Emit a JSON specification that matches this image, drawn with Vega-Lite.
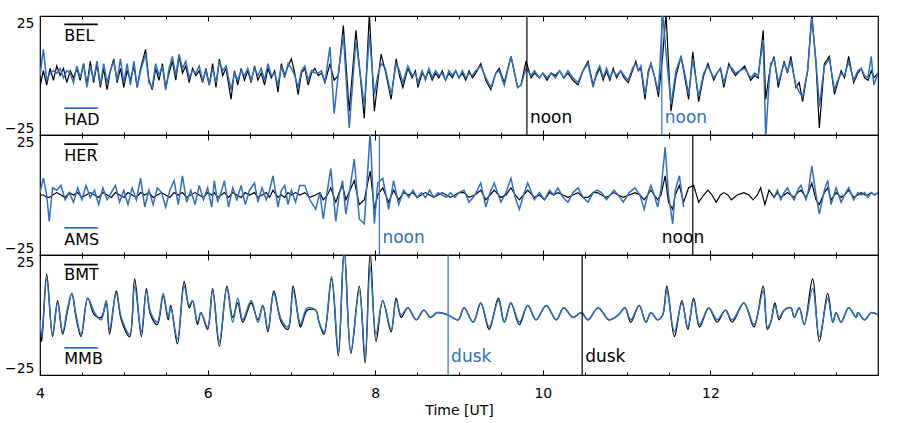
{
  "$schema": "https://vega.github.io/schema/vega-lite/v6.json",
  "background": "white",
  "padding": {"left": 3, "top": 14, "right": 5, "bottom": 5},
  "spacing": 0,
  "bounds": "flush",
  "config": {
    "font": "DejaVu Sans",
    "view": {"stroke": "black", "strokeWidth": 1.2},
    "axis": {"grid": false, "domain": false, "labelFontSize": 14, "labelColor": "black", "tickColor": "black", "titleColor": "black", "titleFontWeight": "normal", "titleFontSize": 14}
  },
  "vconcat": [
    {
      "width": 838, "height": 119,
      "resolve": {"axis": {"x": "independent"}},
      "layer": [
        {
          "data": {"values": [
            {"t":4.00,"a":-5,"b":0},{"t":4.04,"a":2,"b":11},{"t":4.08,"a":-4,"b":-2},{"t":4.12,"a":3,"b":1},{"t":4.16,"a":-2,"b":2},{"t":4.20,"a":4,"b":1},{"t":4.24,"a":0,"b":3},{"t":4.28,"a":3,"b":-1},{"t":4.32,"a":-3,"b":2},{"t":4.36,"a":2,"b":1},{"t":4.40,"a":-1,"b":-3},{"t":4.44,"a":3,"b":4},{"t":4.48,"a":-2,"b":-1},{"t":4.52,"a":5,"b":5},{"t":4.56,"a":-4,"b":-5},{"t":4.60,"a":6,"b":4},{"t":4.64,"a":-3,"b":-2},{"t":4.68,"a":5,"b":6},{"t":4.72,"a":-5,"b":-4},{"t":4.76,"a":3,"b":5},{"t":4.80,"a":-6,"b":-3},{"t":4.84,"a":2,"b":2},{"t":4.88,"a":7,"b":6},{"t":4.92,"a":-3,"b":-2},{"t":4.96,"a":3,"b":7},{"t":5.00,"a":-5,"b":-3},{"t":5.04,"a":2,"b":5},{"t":5.08,"a":-2,"b":-4},{"t":5.12,"a":4,"b":6},{"t":5.16,"a":-5,"b":-5},{"t":5.20,"a":3,"b":2},{"t":5.26,"a":11,"b":9},{"t":5.30,"a":-2,"b":-3},{"t":5.34,"a":-6,"b":-5},{"t":5.38,"a":3,"b":5},{"t":5.42,"a":-2,"b":0},{"t":5.46,"a":5,"b":4},{"t":5.50,"a":-5,"b":-6},{"t":5.54,"a":1,"b":3},{"t":5.58,"a":6,"b":8},{"t":5.62,"a":-2,"b":0},{"t":5.66,"a":8,"b":9},{"t":5.70,"a":1,"b":3},{"t":5.74,"a":4,"b":6},{"t":5.78,"a":-3,"b":-1},{"t":5.82,"a":3,"b":2},{"t":5.86,"a":0,"b":1},{"t":5.90,"a":2,"b":4},{"t":5.94,"a":-3,"b":-2},{"t":5.98,"a":3,"b":2},{"t":6.02,"a":-4,"b":-4},{"t":6.06,"a":5,"b":3},{"t":6.10,"a":-5,"b":-3},{"t":6.14,"a":7,"b":6},{"t":6.18,"a":0,"b":2},{"t":6.22,"a":3,"b":4},{"t":6.28,"a":-10,"b":-6},{"t":6.32,"a":2,"b":1},{"t":6.36,"a":-4,"b":-2},{"t":6.40,"a":3,"b":2},{"t":6.44,"a":-2,"b":0},{"t":6.48,"a":2,"b":3},{"t":6.52,"a":-3,"b":-2},{"t":6.56,"a":4,"b":3},{"t":6.60,"a":-2,"b":0},{"t":6.64,"a":1,"b":3},{"t":6.68,"a":-4,"b":-2},{"t":6.72,"a":3,"b":5},{"t":6.76,"a":-1,"b":0},{"t":6.80,"a":2,"b":1},{"t":6.84,"a":-7,"b":-4},{"t":6.88,"a":5,"b":4},{"t":6.92,"a":0,"b":-1},{"t":6.96,"a":4,"b":5},{"t":7.00,"a":7,"b":3},{"t":7.04,"a":1,"b":0},{"t":7.08,"a":-8,"b":-5},{"t":7.12,"a":1,"b":2},{"t":7.16,"a":3,"b":4},{"t":7.20,"a":-4,"b":-2},{"t":7.24,"a":1,"b":2},{"t":7.28,"a":3,"b":1},{"t":7.32,"a":0,"b":1},{"t":7.36,"a":1,"b":2},{"t":7.40,"a":-3,"b":-3},{"t":7.46,"a":5,"b":12},{"t":7.51,"a":-2,"b":-16},{"t":7.56,"a":0,"b":1},{"t":7.62,"a":21,"b":17},{"t":7.69,"a":-15,"b":-22},{"t":7.77,"a":19,"b":15},{"t":7.87,"a":-18,"b":-13},{"t":7.93,"a":26,"b":17},{"t":7.99,"a":-15,"b":-8},{"t":8.03,"a":-3,"b":0},{"t":8.07,"a":9,"b":5},{"t":8.12,"a":2,"b":3},{"t":8.19,"a":-10,"b":-8},{"t":8.25,"a":7,"b":5},{"t":8.29,"a":0,"b":2},{"t":8.33,"a":-5,"b":-3},{"t":8.39,"a":3,"b":4},{"t":8.44,"a":-1,"b":0},{"t":8.48,"a":2,"b":1},{"t":8.51,"a":-5,"b":-3},{"t":8.56,"a":1,"b":2},{"t":8.60,"a":-1,"b":-2},{"t":8.64,"a":2,"b":3},{"t":8.68,"a":-2,"b":-1},{"t":8.72,"a":1,"b":2},{"t":8.76,"a":-1,"b":0},{"t":8.80,"a":2,"b":1},{"t":8.84,"a":-2,"b":-2},{"t":8.88,"a":1,"b":2},{"t":8.92,"a":-1,"b":0},{"t":8.96,"a":2,"b":2},{"t":9.00,"a":-1,"b":-1},{"t":9.04,"a":1,"b":2},{"t":9.08,"a":-2,"b":-1},{"t":9.12,"a":2,"b":1},{"t":9.16,"a":-1,"b":0},{"t":9.20,"a":1,"b":2},{"t":9.26,"a":5,"b":4},{"t":9.32,"a":-2,"b":-1},{"t":9.38,"a":-6,"b":-5},{"t":9.44,"a":1,"b":1},{"t":9.48,"a":3,"b":2},{"t":9.54,"a":-3,"b":-4},{"t":9.62,"a":8,"b":8},{"t":9.70,"a":-5,"b":-5},{"t":9.74,"a":-4,"b":-4},{"t":9.80,"a":6,"b":3},{"t":9.86,"a":-1,"b":0},{"t":9.90,"a":1,"b":2},{"t":9.96,"a":-1,"b":-1},{"t":10.00,"a":1,"b":1},{"t":10.05,"a":-2,"b":-1},{"t":10.10,"a":1,"b":1},{"t":10.15,"a":0,"b":-1},{"t":10.20,"a":2,"b":2},{"t":10.25,"a":-1,"b":-1},{"t":10.30,"a":1,"b":2},{"t":10.36,"a":-2,"b":-1},{"t":10.42,"a":-4,"b":-3},{"t":10.48,"a":2,"b":2},{"t":10.54,"a":6,"b":5},{"t":10.60,"a":-4,"b":-5},{"t":10.64,"a":0,"b":1},{"t":10.68,"a":3,"b":4},{"t":10.72,"a":-2,"b":-1},{"t":10.76,"a":2,"b":3},{"t":10.80,"a":-2,"b":-1},{"t":10.84,"a":3,"b":2},{"t":10.88,"a":-1,"b":0},{"t":10.93,"a":2,"b":2},{"t":10.97,"a":-1,"b":0},{"t":11.02,"a":-3,"b":-2},{"t":11.07,"a":2,"b":3},{"t":11.11,"a":6,"b":5},{"t":11.14,"a":2,"b":2},{"t":11.17,"a":3,"b":4},{"t":11.22,"a":-10,"b":-8},{"t":11.26,"a":2,"b":1},{"t":11.29,"a":5,"b":5},{"t":11.33,"a":0,"b":0},{"t":11.38,"a":-9,"b":-7},{"t":11.43,"a":8,"b":26},{"t":11.47,"a":26,"b":10},{"t":11.53,"a":-15,"b":-12},{"t":11.59,"a":0,"b":2},{"t":11.65,"a":8,"b":8},{"t":11.71,"a":-4,"b":-2},{"t":11.74,"a":-10,"b":-8},{"t":11.79,"a":10,"b":7},{"t":11.86,"a":-11,"b":-9},{"t":11.92,"a":0,"b":1},{"t":11.97,"a":5,"b":4},{"t":12.04,"a":-2,"b":-1},{"t":12.08,"a":1,"b":1},{"t":12.12,"a":3,"b":3},{"t":12.16,"a":-5,"b":-3},{"t":12.22,"a":5,"b":4},{"t":12.26,"a":2,"b":3},{"t":12.30,"a":0,"b":1},{"t":12.35,"a":2,"b":2},{"t":12.41,"a":4,"b":3},{"t":12.48,"a":-2,"b":-1},{"t":12.53,"a":0,"b":1},{"t":12.57,"a":-1,"b":0},{"t":12.63,"a":19,"b":15},{"t":12.66,"a":-10,"b":-26},{"t":12.70,"a":0,"b":-3},{"t":12.72,"a":4,"b":5},{"t":12.76,"a":8,"b":7},{"t":12.81,"a":-5,"b":-3},{"t":12.88,"a":6,"b":5},{"t":12.92,"a":1,"b":2},{"t":12.96,"a":8,"b":6},{"t":13.02,"a":-5,"b":-4},{"t":13.06,"a":-3,"b":-7},{"t":13.10,"a":-11,"b":-9},{"t":13.16,"a":2,"b":2},{"t":13.21,"a":26,"b":24},{"t":13.26,"a":5,"b":6},{"t":13.30,"a":-22,"b":-13},{"t":13.36,"a":5,"b":4},{"t":13.42,"a":8,"b":7},{"t":13.48,"a":-8,"b":-6},{"t":13.52,"a":-3,"b":-2},{"t":13.56,"a":2,"b":1},{"t":13.60,"a":-1,"b":0},{"t":13.65,"a":8,"b":6},{"t":13.71,"a":-3,"b":-2},{"t":13.76,"a":1,"b":2},{"t":13.80,"a":3,"b":3},{"t":13.84,"a":-1,"b":0},{"t":13.88,"a":-2,"b":-1},{"t":13.92,"a":2,"b":8},{"t":13.95,"a":-1,"b":-4},{"t":14.00,"a":1,"b":1}
          ]},
          "layer": [
            {
              "mark": {"type": "line", "color": "black", "strokeWidth": 1.2, "clip": true},
              "encoding": {
                "x": {"field": "t", "type": "quantitative", "scale": {"domain": [4, 14], "nice": false, "zero": false},
                  "axis": {"orient": "bottom", "values": [4,4.5,5,5.5,6,6.5,7,7.5,8,8.5,9,9.5,10,10.5,11,11.5,12,12.5,13,13.5], "labels": false, "title": null, "tickSize": {"condition": {"test": "datum.value % 2 == 0", "value": -5}, "value": -3}}},
                "y": {"field": "a", "type": "quantitative", "scale": {"domain": [-25, 25], "nice": false, "zero": false},
                  "axis": {"values": [-25, 25], "labelExpr": "datum.value < 0 ? '\u221225' : '25'", "ticks": false, "labelPadding": 6, "labelFlush": true, "labelOverlap": false, "title": null}}
              }
            },
            {
              "mark": {"type": "line", "color": "#2f6fc0", "strokeWidth": 1.5, "clip": true},
              "encoding": {
                "x": {"field": "t", "type": "quantitative",
                  "axis": {"orient": "top", "values": [4,4.5,5,5.5,6,6.5,7,7.5,8,8.5,9,9.5,10,10.5,11,11.5,12,12.5,13,13.5], "labels": false, "title": null, "tickSize": {"condition": {"test": "datum.value % 2 == 0", "value": -5}, "value": -3}}},
                "y": {"field": "b", "type": "quantitative"}
              }
            }
          ]
        },
        {
          "data": {"values": [{"t": 9.81, "c": "k", "s": "noon"}, {"t": 11.42, "c": "b", "s": "noon"}]},
          "layer": [
            {"mark": {"type": "rule", "strokeWidth": 1.2},
             "encoding": {"x": {"field": "t", "type": "quantitative", "axis": null}, "color": {"field": "c", "type": "nominal", "scale": {"domain": ["k", "b"], "range": ["black", "#2f6fc0"]}, "legend": null}}},
            {"mark": {"type": "text", "align": "left", "baseline": "middle", "dx": 3, "fontSize": 17},
             "encoding": {"x": {"field": "t", "type": "quantitative", "axis": null}, "y": {"datum": -18}, "text": {"field": "s"}, "color": {"field": "c", "type": "nominal", "legend": null}}}
          ]
        },
        {
          "data": {"values": [{"t1": 4.29, "t2": 4.69, "y": 21.5, "c": "k", "s": "BEL", "ty": 16.5}, {"t1": 4.29, "t2": 4.69, "y": -13.7, "c": "b", "s": "HAD", "ty": -18.7}]},
          "layer": [
            {"mark": {"type": "rule", "strokeWidth": 1.6},
             "encoding": {"x": {"field": "t1", "type": "quantitative", "axis": null}, "x2": {"field": "t2"}, "y": {"field": "y", "type": "quantitative"}, "color": {"field": "c", "type": "nominal", "legend": null}}},
            {"mark": {"type": "text", "align": "left", "baseline": "middle", "fontSize": 16, "color": "black"},
             "encoding": {"x": {"field": "t1", "type": "quantitative", "axis": null}, "y": {"field": "ty", "type": "quantitative"}, "text": {"field": "s"}}}
          ]
        }
      ]
    },
    {
      "width": 838, "height": 120,
      "resolve": {"axis": {"x": "independent"}},
      "layer": [
        {
          "data": {"values": [
            {"t":4.00,"a":0,"b":1},{"t":4.04,"a":0,"b":7},{"t":4.08,"a":-1,"b":0},{"t":4.11,"a":-1,"b":-11},{"t":4.15,"a":0,"b":3},{"t":4.20,"a":1,"b":2},{"t":4.25,"a":0,"b":4},{"t":4.30,"a":-1,"b":-2},{"t":4.35,"a":1,"b":1},{"t":4.40,"a":0,"b":-3},{"t":4.45,"a":1,"b":3},{"t":4.50,"a":-1,"b":-2},{"t":4.55,"a":0,"b":4},{"t":4.60,"a":1,"b":-1},{"t":4.65,"a":0,"b":2},{"t":4.70,"a":-1,"b":-4},{"t":4.75,"a":1,"b":3},{"t":4.80,"a":0,"b":-2},{"t":4.85,"a":-1,"b":1},{"t":4.90,"a":1,"b":4},{"t":4.95,"a":0,"b":-3},{"t":5.00,"a":-1,"b":2},{"t":5.05,"a":1,"b":-4},{"t":5.10,"a":0,"b":3},{"t":5.15,"a":-1,"b":-2},{"t":5.20,"a":1,"b":7},{"t":5.25,"a":0,"b":-5},{"t":5.30,"a":1,"b":2},{"t":5.35,"a":-1,"b":-4},{"t":5.40,"a":0,"b":3},{"t":5.45,"a":1,"b":1},{"t":5.50,"a":0,"b":-5},{"t":5.55,"a":-1,"b":2},{"t":5.60,"a":1,"b":6},{"t":5.65,"a":0,"b":-4},{"t":5.70,"a":1,"b":8},{"t":5.75,"a":-1,"b":-3},{"t":5.80,"a":0,"b":2},{"t":5.85,"a":1,"b":-4},{"t":5.90,"a":0,"b":4},{"t":5.95,"a":-1,"b":-2},{"t":6.00,"a":1,"b":3},{"t":6.05,"a":0,"b":-5},{"t":6.08,"a":1,"b":6},{"t":6.12,"a":-1,"b":-3},{"t":6.16,"a":0,"b":1},{"t":6.20,"a":1,"b":6},{"t":6.25,"a":-1,"b":-5},{"t":6.30,"a":1,"b":3},{"t":6.35,"a":0,"b":-2},{"t":6.40,"a":-1,"b":4},{"t":6.45,"a":1,"b":-4},{"t":6.50,"a":0,"b":2},{"t":6.56,"a":1,"b":5},{"t":6.60,"a":-1,"b":-3},{"t":6.65,"a":0,"b":3},{"t":6.70,"a":1,"b":-2},{"t":6.74,"a":-1,"b":2},{"t":6.78,"a":2,"b":8},{"t":6.84,"a":-1,"b":-5},{"t":6.88,"a":0,"b":2},{"t":6.92,"a":-1,"b":4},{"t":6.96,"a":1,"b":-4},{"t":7.00,"a":0,"b":2},{"t":7.05,"a":1,"b":-3},{"t":7.10,"a":0,"b":4},{"t":7.16,"a":1,"b":4},{"t":7.22,"a":-1,"b":-2},{"t":7.29,"a":0,"b":-6},{"t":7.34,"a":1,"b":1},{"t":7.38,"a":-2,"b":-10},{"t":7.43,"a":0,"b":2},{"t":7.47,"a":3,"b":11},{"t":7.53,"a":-3,"b":-11},{"t":7.57,"a":1,"b":0},{"t":7.61,"a":4,"b":6},{"t":7.65,"a":-2,"b":-8},{"t":7.70,"a":2,"b":3},{"t":7.75,"a":6,"b":15},{"t":7.81,"a":-4,"b":-10},{"t":7.87,"a":-2,"b":-12},{"t":7.94,"a":10,"b":26},{"t":7.99,"a":-6,"b":-12},{"t":8.03,"a":0,"b":5},{"t":8.09,"a":3,"b":7},{"t":8.16,"a":-3,"b":-6},{"t":8.22,"a":2,"b":6},{"t":8.28,"a":-2,"b":-4},{"t":8.34,"a":1,"b":2},{"t":8.40,"a":0,"b":-1},{"t":8.45,"a":1,"b":2},{"t":8.50,"a":-1,"b":-1},{"t":8.55,"a":0,"b":1},{"t":8.60,"a":1,"b":-1},{"t":8.65,"a":0,"b":2},{"t":8.70,"a":-1,"b":-1},{"t":8.75,"a":0,"b":1},{"t":8.80,"a":1,"b":0},{"t":8.85,"a":0,"b":-1},{"t":8.90,"a":-1,"b":1},{"t":8.95,"a":0,"b":-1},{"t":9.00,"a":1,"b":1},{"t":9.06,"a":1,"b":2},{"t":9.12,"a":-1,"b":-3},{"t":9.19,"a":0,"b":0},{"t":9.26,"a":2,"b":5},{"t":9.32,"a":-2,"b":-5},{"t":9.37,"a":0,"b":1},{"t":9.42,"a":2,"b":5},{"t":9.50,"a":-1,"b":-3},{"t":9.56,"a":0,"b":1},{"t":9.62,"a":3,"b":7},{"t":9.67,"a":0,"b":-1},{"t":9.72,"a":-2,"b":-6},{"t":9.77,"a":0,"b":0},{"t":9.82,"a":2,"b":5},{"t":9.90,"a":-1,"b":-2},{"t":9.96,"a":0,"b":1},{"t":10.02,"a":-2,"b":-2},{"t":10.08,"a":1,"b":2},{"t":10.13,"a":0,"b":0},{"t":10.18,"a":1,"b":3},{"t":10.24,"a":0,"b":-1},{"t":10.30,"a":-1,"b":-3},{"t":10.36,"a":0,"b":1},{"t":10.42,"a":1,"b":3},{"t":10.48,"a":-1,"b":-1},{"t":10.54,"a":-1,"b":-3},{"t":10.60,"a":1,"b":1},{"t":10.65,"a":1,"b":2},{"t":10.70,"a":0,"b":1},{"t":10.76,"a":-1,"b":-2},{"t":10.85,"a":1,"b":2},{"t":10.90,"a":0,"b":0},{"t":10.96,"a":-1,"b":-3},{"t":11.03,"a":0,"b":1},{"t":11.10,"a":1,"b":3},{"t":11.16,"a":0,"b":0},{"t":11.21,"a":-2,"b":-6},{"t":11.25,"a":0,"b":0},{"t":11.29,"a":2,"b":4},{"t":11.33,"a":0,"b":0},{"t":11.37,"a":-2,"b":-5},{"t":11.41,"a":0,"b":2},{"t":11.46,"a":8,"b":20},{"t":11.50,"a":-3,"b":0},{"t":11.55,"a":-6,"b":-12},{"t":11.58,"a":0,"b":2},{"t":11.63,"a":4,"b":8},{"t":11.68,"a":-3,"b":-5},{"t":11.74,"a":3,"b":null},{"t":11.80,"a":4,"b":null},{"t":11.86,"a":-3,"b":null},{"t":11.92,"a":0,"b":null},{"t":11.97,"a":2,"b":null},{"t":12.02,"a":0,"b":null},{"t":12.07,"a":-3,"b":null},{"t":12.12,"a":0,"b":null},{"t":12.16,"a":1,"b":null},{"t":12.21,"a":0,"b":null},{"t":12.25,"a":-2,"b":null},{"t":12.32,"a":0,"b":null},{"t":12.40,"a":1,"b":null},{"t":12.46,"a":0,"b":null},{"t":12.51,"a":-2,"b":null},{"t":12.56,"a":0,"b":null},{"t":12.60,"a":3,"b":null},{"t":12.65,"a":-4,"b":null},{"t":12.70,"a":2,"b":null},{"t":12.76,"a":-1,"b":-1},{"t":12.80,"a":1,"b":2},{"t":12.84,"a":-1,"b":-2},{"t":12.88,"a":0,"b":1},{"t":12.92,"a":1,"b":3},{"t":12.96,"a":0,"b":0},{"t":13.00,"a":-1,"b":-2},{"t":13.04,"a":1,"b":2},{"t":13.08,"a":2,"b":4},{"t":13.14,"a":-1,"b":-2},{"t":13.17,"a":1,"b":2},{"t":13.21,"a":5,"b":12},{"t":13.26,"a":-2,"b":0},{"t":13.30,"a":-4,"b":-8},{"t":13.36,"a":1,"b":2},{"t":13.40,"a":3,"b":6},{"t":13.44,"a":-2,"b":-4},{"t":13.50,"a":1,"b":3},{"t":13.56,"a":-1,"b":-3},{"t":13.60,"a":0,"b":0},{"t":13.65,"a":2,"b":3},{"t":13.71,"a":-1,"b":-2},{"t":13.76,"a":0,"b":1},{"t":13.80,"a":1,"b":0},{"t":13.84,"a":0,"b":1},{"t":13.88,"a":0,"b":-1},{"t":13.92,"a":1,"b":1},{"t":13.96,"a":0,"b":0},{"t":14.00,"a":1,"b":1}
          ]},
          "layer": [
            {
              "mark": {"type": "line", "color": "black", "strokeWidth": 1.2, "clip": true},
              "encoding": {
                "x": {"field": "t", "type": "quantitative", "scale": {"domain": [4, 14], "nice": false, "zero": false},
                  "axis": {"orient": "bottom", "values": [4,4.5,5,5.5,6,6.5,7,7.5,8,8.5,9,9.5,10,10.5,11,11.5,12,12.5,13,13.5], "labels": false, "title": null, "tickSize": {"condition": {"test": "datum.value % 2 == 0", "value": -5}, "value": -3}}},
                "y": {"field": "a", "type": "quantitative", "scale": {"domain": [-25, 25], "nice": false, "zero": false},
                  "axis": {"values": [-25, 25], "labelExpr": "datum.value < 0 ? '\u221225' : '25'", "ticks": false, "labelPadding": 6, "labelFlush": true, "labelOverlap": false, "title": null}}
              }
            },
            {
              "mark": {"type": "line", "color": "#2f6fc0", "strokeWidth": 1.5, "clip": true, "invalid": "break-paths-show-domains"},
              "encoding": {
                "x": {"field": "t", "type": "quantitative",
                  "axis": {"orient": "top", "values": [4,4.5,5,5.5,6,6.5,7,7.5,8,8.5,9,9.5,10,10.5,11,11.5,12,12.5,13,13.5], "labels": false, "title": null, "tickSize": {"condition": {"test": "datum.value % 2 == 0", "value": -5}, "value": -3}}},
                "y": {"field": "b", "type": "quantitative"}
              }
            }
          ]
        },
        {
          "data": {"values": [{"t": 8.05, "c": "b", "s": "noon"}, {"t": 11.79, "c": "k", "s": "noon"}]},
          "layer": [
            {"mark": {"type": "rule", "strokeWidth": 1.2},
             "encoding": {"x": {"field": "t", "type": "quantitative", "axis": null}, "color": {"field": "c", "type": "nominal", "scale": {"domain": ["k", "b"], "range": ["black", "#2f6fc0"]}, "legend": null}}},
            {"transform": [{"filter": "datum.c == 'b'"}],
             "mark": {"type": "text", "align": "left", "baseline": "middle", "dx": 3, "fontSize": 17},
             "encoding": {"x": {"field": "t", "type": "quantitative", "axis": null}, "y": {"datum": -18}, "text": {"field": "s"}, "color": {"field": "c", "type": "nominal", "legend": null}}},
            {"transform": [{"filter": "datum.c == 'k'"}],
             "mark": {"type": "text", "align": "left", "baseline": "middle", "dx": -31, "fontSize": 17},
             "encoding": {"x": {"field": "t", "type": "quantitative", "axis": null}, "y": {"datum": -18}, "text": {"field": "s"}, "color": {"field": "c", "type": "nominal", "legend": null}}}
          ]
        },
        {
          "data": {"values": [{"t1": 4.29, "t2": 4.69, "y": 21.2, "c": "k", "s": "HER", "ty": 16.2}, {"t1": 4.29, "t2": 4.69, "y": -13.7, "c": "b", "s": "AMS", "ty": -18.7}]},
          "layer": [
            {"mark": {"type": "rule", "strokeWidth": 1.6},
             "encoding": {"x": {"field": "t1", "type": "quantitative", "axis": null}, "x2": {"field": "t2"}, "y": {"field": "y", "type": "quantitative"}, "color": {"field": "c", "type": "nominal", "legend": null}}},
            {"mark": {"type": "text", "align": "left", "baseline": "middle", "fontSize": 16, "color": "black"},
             "encoding": {"x": {"field": "t1", "type": "quantitative", "axis": null}, "y": {"field": "ty", "type": "quantitative"}, "text": {"field": "s"}}}
          ]
        }
      ]
    },
    {
      "width": 838, "height": 120,
      "resolve": {"axis": {"x": "independent"}},
      "layer": [
        {
          "data": {"values": [
            {"t":4.00,"a":-3,"b":-2},{"t":4.02,"a":-11,"b":-9},{"t":4.08,"a":17,"b":15},{"t":4.15,"a":-9,"b":-8},{"t":4.21,"a":6,"b":5},{"t":4.27,"a":-8,"b":-7},{"t":4.33,"a":2,"b":3},{"t":4.38,"a":9,"b":9},{"t":4.43,"a":-1,"b":0},{"t":4.49,"a":-9,"b":-8},{"t":4.57,"a":7,"b":7},{"t":4.65,"a":0,"b":1},{"t":4.73,"a":-1,"b":-2},{"t":4.79,"a":5,"b":6},{"t":4.83,"a":-8,"b":-6},{"t":4.91,"a":10,"b":9},{"t":4.97,"a":-2,"b":-1},{"t":5.07,"a":-9,"b":-8},{"t":5.13,"a":15,"b":12},{"t":5.21,"a":-9,"b":-7},{"t":5.27,"a":11,"b":10},{"t":5.32,"a":0,"b":1},{"t":5.40,"a":-4,"b":-3},{"t":5.47,"a":8,"b":9},{"t":5.53,"a":-2,"b":-1},{"t":5.56,"a":4,"b":3},{"t":5.64,"a":-12,"b":-10},{"t":5.72,"a":14,"b":12},{"t":5.78,"a":3,"b":4},{"t":5.82,"a":6,"b":6},{"t":5.88,"a":-4,"b":-3},{"t":5.92,"a":1,"b":1},{"t":6.00,"a":-6,"b":-5},{"t":6.06,"a":11,"b":10},{"t":6.14,"a":-13,"b":-11},{"t":6.23,"a":12,"b":11},{"t":6.30,"a":-1,"b":-3},{"t":6.36,"a":5,"b":7},{"t":6.42,"a":-3,"b":-2},{"t":6.52,"a":5,"b":6},{"t":6.60,"a":-2,"b":-3},{"t":6.66,"a":4,"b":4},{"t":6.72,"a":-7,"b":-6},{"t":6.79,"a":10,"b":9},{"t":6.88,"a":-3,"b":-2},{"t":6.96,"a":-6,"b":-5},{"t":7.02,"a":12,"b":10},{"t":7.09,"a":-3,"b":-2},{"t":7.11,"a":-5,"b":-4},{"t":7.19,"a":2,"b":3},{"t":7.29,"a":2,"b":2},{"t":7.33,"a":-3,"b":-3},{"t":7.39,"a":-8,"b":-7},{"t":7.48,"a":15,"b":16},{"t":7.56,"a":-17,"b":-15},{"t":7.63,"a":27,"b":27},{"t":7.71,"a":-16,"b":-15},{"t":7.81,"a":12,"b":10},{"t":7.88,"a":-20,"b":-17},{"t":7.94,"a":26,"b":20},{"t":8.01,"a":-11,"b":-8},{"t":8.09,"a":6,"b":6},{"t":8.19,"a":-7,"b":-6},{"t":8.25,"a":7,"b":6},{"t":8.31,"a":-1,"b":0},{"t":8.39,"a":3,"b":3},{"t":8.49,"a":-2,"b":-2},{"t":8.58,"a":2,"b":2},{"t":8.66,"a":-1,"b":-1},{"t":8.74,"a":1,"b":1},{"t":8.87,"a":0,"b":0},{"t":8.99,"a":-2,"b":-2},{"t":9.06,"a":3,"b":3},{"t":9.17,"a":-3,"b":-3},{"t":9.26,"a":5,"b":5},{"t":9.36,"a":-6,"b":-5},{"t":9.47,"a":7,"b":6},{"t":9.54,"a":-3,"b":-3},{"t":9.62,"a":5,"b":5},{"t":9.72,"a":-4,"b":-3},{"t":9.82,"a":4,"b":4},{"t":9.92,"a":-2,"b":-2},{"t":10.04,"a":4,"b":4},{"t":10.16,"a":-2,"b":-2},{"t":10.25,"a":3,"b":3},{"t":10.36,"a":-1,"b":-1},{"t":10.46,"a":1,"b":1},{"t":10.54,"a":-2,"b":-2},{"t":10.66,"a":3,"b":3},{"t":10.79,"a":-2,"b":-2},{"t":10.90,"a":0,"b":0},{"t":10.98,"a":3,"b":3},{"t":11.05,"a":-3,"b":-2},{"t":11.15,"a":4,"b":4},{"t":11.23,"a":-3,"b":-3},{"t":11.29,"a":1,"b":1},{"t":11.37,"a":-2,"b":-2},{"t":11.43,"a":0,"b":0},{"t":11.48,"a":12,"b":10},{"t":11.57,"a":-9,"b":-7},{"t":11.66,"a":6,"b":5},{"t":11.73,"a":-6,"b":-5},{"t":11.80,"a":7,"b":6},{"t":11.87,"a":-5,"b":-4},{"t":11.98,"a":3,"b":3},{"t":12.08,"a":-3,"b":-2},{"t":12.18,"a":2,"b":2},{"t":12.26,"a":-3,"b":-2},{"t":12.40,"a":5,"b":5},{"t":12.52,"a":-5,"b":-4},{"t":12.63,"a":12,"b":10},{"t":12.68,"a":-6,"b":-5},{"t":12.72,"a":-3,"b":-3},{"t":12.77,"a":5,"b":4},{"t":12.82,"a":-2,"b":-1},{"t":12.88,"a":2,"b":2},{"t":12.96,"a":3,"b":3},{"t":13.00,"a":-1,"b":-1},{"t":13.06,"a":3,"b":3},{"t":13.12,"a":-4,"b":-4},{"t":13.22,"a":15,"b":11},{"t":13.30,"a":-11,"b":-9},{"t":13.40,"a":9,"b":7},{"t":13.46,"a":-3,"b":-3},{"t":13.50,"a":1,"b":1},{"t":13.56,"a":-3,"b":-3},{"t":13.65,"a":3,"b":3},{"t":13.74,"a":-1,"b":-1},{"t":13.76,"a":1,"b":1},{"t":13.84,"a":-2,"b":-2},{"t":13.92,"a":1,"b":1},{"t":14.00,"a":0,"b":0}
          ]},
          "layer": [
            {
              "mark": {"type": "line", "color": "black", "strokeWidth": 1.3, "clip": true, "interpolate": "catmull-rom"},
              "encoding": {
                "x": {"field": "t", "type": "quantitative", "scale": {"domain": [4, 14], "nice": false, "zero": false},
                  "axis": {"orient": "bottom", "values": [4,4.5,5,5.5,6,6.5,7,7.5,8,8.5,9,9.5,10,10.5,11,11.5,12,12.5,13,13.5], "labelExpr": "datum.value % 2 == 0 ? format(datum.value, 'd') : ''", "labelFlush": false, "labelPadding": 16, "title": "Time [UT]", "titlePadding": 3, "tickSize": {"condition": {"test": "datum.value % 2 == 0", "value": -5}, "value": -3}}},
                "y": {"field": "a", "type": "quantitative", "scale": {"domain": [-25, 25], "nice": false, "zero": false},
                  "axis": {"values": [-25, 25], "labelExpr": "datum.value < 0 ? '\u221225' : '25'", "ticks": false, "labelPadding": 6, "labelFlush": true, "labelOverlap": false, "title": null}}
              }
            },
            {
              "mark": {"type": "line", "color": "#2f6fc0", "strokeWidth": 1.5, "clip": true, "interpolate": "catmull-rom"},
              "encoding": {
                "x": {"field": "t", "type": "quantitative",
                  "axis": {"orient": "top", "values": [4,4.5,5,5.5,6,6.5,7,7.5,8,8.5,9,9.5,10,10.5,11,11.5,12,12.5,13,13.5], "labels": false, "title": null, "tickSize": {"condition": {"test": "datum.value % 2 == 0", "value": -5}, "value": -3}}},
                "y": {"field": "b", "type": "quantitative"}
              }
            }
          ]
        },
        {
          "data": {"values": [{"t": 8.87, "c": "b", "s": "dusk"}, {"t": 10.47, "c": "k", "s": "dusk"}]},
          "layer": [
            {"mark": {"type": "rule", "strokeWidth": 1.2},
             "encoding": {"x": {"field": "t", "type": "quantitative", "axis": null}, "color": {"field": "c", "type": "nominal", "scale": {"domain": ["k", "b"], "range": ["black", "#2f6fc0"]}, "legend": null}}},
            {"mark": {"type": "text", "align": "left", "baseline": "middle", "dx": 3, "fontSize": 17},
             "encoding": {"x": {"field": "t", "type": "quantitative", "axis": null}, "y": {"datum": -17.5}, "text": {"field": "s"}, "color": {"field": "c", "type": "nominal", "legend": null}}}
          ]
        },
        {
          "data": {"values": [{"t1": 4.29, "t2": 4.69, "y": 21, "c": "k", "s": "BMT", "ty": 16.5}, {"t1": 4.29, "t2": 4.69, "y": -13.7, "c": "b", "s": "MMB", "ty": -18.3}]},
          "layer": [
            {"mark": {"type": "rule", "strokeWidth": 1.6},
             "encoding": {"x": {"field": "t1", "type": "quantitative", "axis": null}, "x2": {"field": "t2"}, "y": {"field": "y", "type": "quantitative"}, "color": {"field": "c", "type": "nominal", "legend": null}}},
            {"mark": {"type": "text", "align": "left", "baseline": "middle", "fontSize": 16, "color": "black"},
             "encoding": {"x": {"field": "t1", "type": "quantitative", "axis": null}, "y": {"field": "ty", "type": "quantitative"}, "text": {"field": "s"}}}
          ]
        }
      ]
    }
  ]
}
